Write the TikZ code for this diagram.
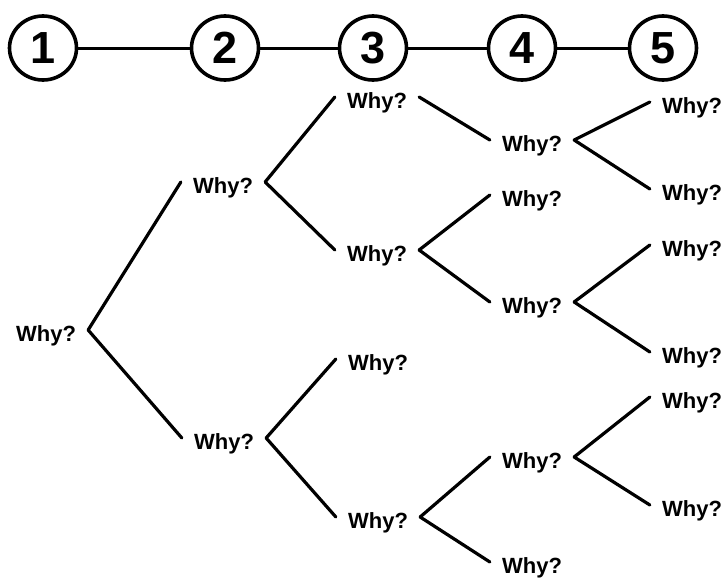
\documentclass[tikz,border=0pt]{standalone}
\usepackage{fontspec}
\setmainfont{Liberation Sans}
\usetikzlibrary{shapes.geometric}
\tikzset{
  why/.style={font=\fontsize{22}{22}\selectfont\bfseries, inner xsep=12pt, inner ysep=0pt, text height=16pt, text depth=0pt},
  num/.style={draw, ellipse, line width=3.6pt, minimum width=67pt, minimum height=64pt, inner sep=0pt, font=\fontsize{45}{45}\selectfont\bfseries},
  link/.style={line width=3pt},
  branch/.style={line width=3.2pt, line cap=round}
}
\begin{document}
\begin{tikzpicture}[x=1pt,y=-1pt]
\useasboundingbox (0,0) rectangle (723,579);
% numbered steps
\node[num] (c1) at (43,48) {1};
\node[num] (c2) at (225,48) {2};
\node[num] (c3) at (373,48) {3};
\node[num] (c4) at (522,48) {4};
\node[num] (c5) at (663,48) {5};
\draw[link] (c1) -- (c2);
\draw[link] (c2) -- (c3);
\draw[link] (c3) -- (c4);
\draw[link] (c4) -- (c5);
% tree nodes
\node[why] (R) at (46,333) {Why?};
\node[why] (A) at (223,185) {Why?};
\node[why] (B) at (224,441) {Why?};
\node[why] (A1) at (377,100) {Why?};
\node[why] (A2) at (377,253) {Why?};
\node[why] (B1) at (378,362) {Why?};
\node[why] (B2) at (378,520) {Why?};
\node[why] (A1a) at (532,143) {Why?};
\node[why] (A2a) at (532,198) {Why?};
\node[why] (A2b) at (532,305) {Why?};
\node[why] (B2a) at (532,460) {Why?};
\node[why] (B2b) at (532,565) {Why?};
\node[why] (A1a1) at (692,105) {Why?};
\node[why] (A1a2) at (692,192) {Why?};
\node[why] (A2b1) at (692,248) {Why?};
\node[why] (A2b2) at (692,355) {Why?};
\node[why] (B2a1) at (692,400) {Why?};
\node[why] (B2a2) at (692,508) {Why?};
% connectors
\foreach \p/\c in {R/A, R/B, A/A1, A/A2, B/B1, B/B2, A1/A1a, A2/A2a, A2/A2b, B2/B2a, B2/B2b, A1a/A1a1, A1a/A1a2, A2b/A2b1, A2b/A2b2, B2a/B2a1, B2a/B2a2}
  \draw[branch] ([yshift=3pt]\p.east) -- ([yshift=3pt]\c.west);
\end{tikzpicture}
\end{document}
